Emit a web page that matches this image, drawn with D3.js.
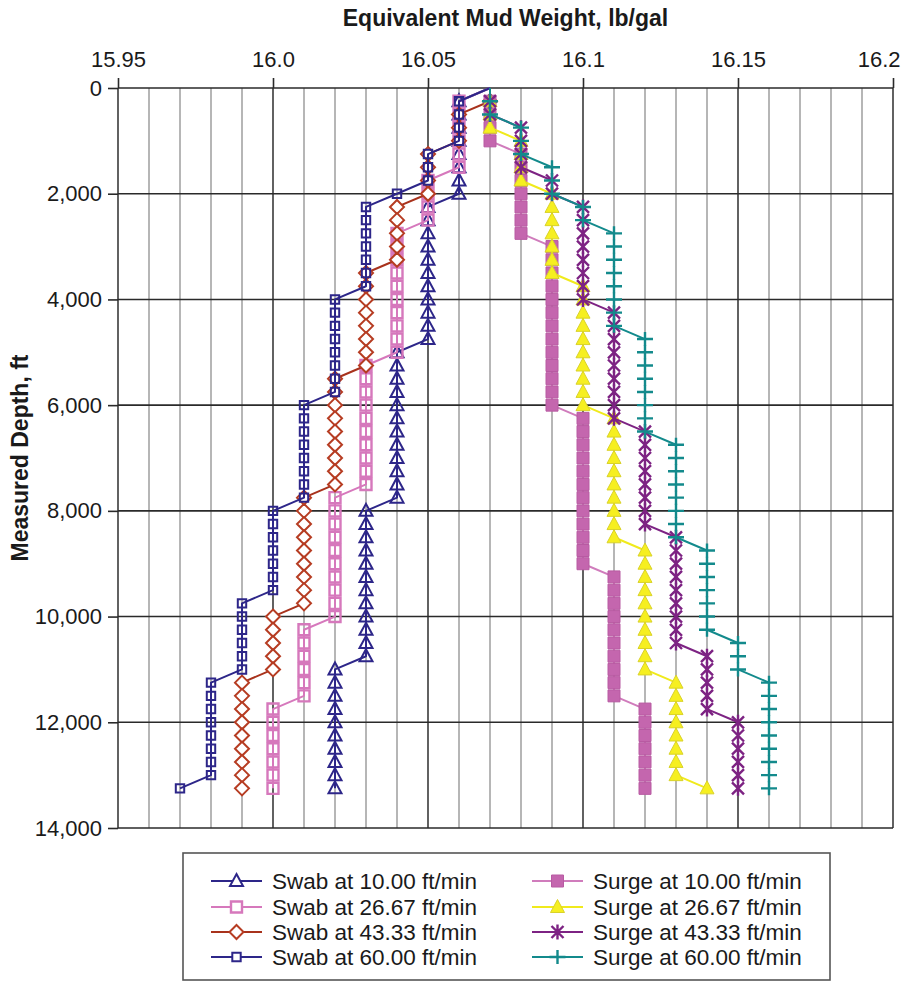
<!DOCTYPE html>
<html>
<head>
<meta charset="utf-8">
<script src="https://cdn.jsdelivr.net/npm/d3@7"></script>
<style>
  body { margin: 0; background: #ffffff; }
  svg { display: block; font-family: "Liberation Sans", Arial, Helvetica, sans-serif; }
</style>
</head>
<body>
<svg id="chart" width="910" height="983"></svg>
<script>
// Measured depth of each calculation point, ft
const depths = [
  0, 250, 500, 750, 1000, 1250, 1500, 1750, 2000, 2250,
  2500, 2750, 3000, 3250, 3500, 3750, 4000, 4250, 4500, 4750,
  5000, 5250, 5500, 5750, 6000, 6250, 6500, 6750, 7000, 7250,
  7500, 7750, 8000, 8250, 8500, 8750, 9000, 9250, 9500, 9750,
  10000, 10250, 10500, 10750, 11000, 11250, 11500, 11750, 12000, 12250,
  12500, 12750, 13000, 13250
];

// Equivalent mud weight (lb/gal) at each depth
const swab10 = [
  16.07,
  16.06, 16.06, 16.06, 16.06, 16.06, 16.06, 16.06, 16.06,
  16.05, 16.05, 16.05, 16.05, 16.05, 16.05, 16.05, 16.05, 16.05, 16.05, 16.05,
  16.04, 16.04, 16.04, 16.04, 16.04, 16.04, 16.04, 16.04, 16.04, 16.04, 16.04, 16.04,
  16.03, 16.03, 16.03, 16.03, 16.03, 16.03, 16.03, 16.03, 16.03, 16.03, 16.03, 16.03,
  16.02, 16.02, 16.02, 16.02, 16.02, 16.02, 16.02, 16.02, 16.02, 16.02
];
const swab26 = [
  16.07,
  16.06, 16.06, 16.06, 16.06, 16.06, 16.06,
  16.05, 16.05, 16.05, 16.05,
  16.04, 16.04, 16.04, 16.04, 16.04, 16.04, 16.04, 16.04, 16.04, 16.04,
  16.03, 16.03, 16.03, 16.03, 16.03, 16.03, 16.03, 16.03, 16.03, 16.03,
  16.02, 16.02, 16.02, 16.02, 16.02, 16.02, 16.02, 16.02, 16.02, 16.02,
  16.01, 16.01, 16.01, 16.01, 16.01, 16.01,
  16.00, 16.00, 16.00, 16.00, 16.00, 16.00, 16.00
];
const swab43 = [
  16.07, 16.07,
  16.06, 16.06, 16.06,
  16.05, 16.05, 16.05, 16.05,
  16.04, 16.04, 16.04, 16.04, 16.04,
  16.03, 16.03, 16.03, 16.03, 16.03, 16.03, 16.03, 16.03,
  16.02, 16.02, 16.02, 16.02, 16.02, 16.02, 16.02, 16.02, 16.02,
  16.01, 16.01, 16.01, 16.01, 16.01, 16.01, 16.01, 16.01, 16.01,
  16.00, 16.00, 16.00, 16.00, 16.00,
  15.99, 15.99, 15.99, 15.99, 15.99, 15.99, 15.99, 15.99, 15.99
];
const swab60 = [
  16.07,
  16.06, 16.06, 16.06, 16.06,
  16.05, 16.05, 16.05,
  16.04,
  16.03, 16.03, 16.03, 16.03, 16.03, 16.03, 16.03,
  16.02, 16.02, 16.02, 16.02, 16.02, 16.02, 16.02, 16.02,
  16.01, 16.01, 16.01, 16.01, 16.01, 16.01, 16.01, 16.01,
  16.00, 16.00, 16.00, 16.00, 16.00, 16.00, 16.00,
  15.99, 15.99, 15.99, 15.99, 15.99, 15.99,
  15.98, 15.98, 15.98, 15.98, 15.98, 15.98, 15.98, 15.98,
  15.97
];
const surge10 = [
  16.07, 16.07, 16.07, 16.07, 16.07,
  16.08, 16.08, 16.08, 16.08, 16.08, 16.08, 16.08,
  16.09, 16.09, 16.09, 16.09, 16.09, 16.09, 16.09, 16.09, 16.09, 16.09, 16.09, 16.09, 16.09,
  16.10, 16.10, 16.10, 16.10, 16.10, 16.10, 16.10, 16.10, 16.10, 16.10, 16.10, 16.10,
  16.11, 16.11, 16.11, 16.11, 16.11, 16.11, 16.11, 16.11, 16.11, 16.11,
  16.12, 16.12, 16.12, 16.12, 16.12, 16.12, 16.12
];
const surge26 = [
  16.07, 16.07, 16.07, 16.07,
  16.08, 16.08, 16.08, 16.08,
  16.09, 16.09, 16.09, 16.09, 16.09, 16.09, 16.09,
  16.10, 16.10, 16.10, 16.10, 16.10, 16.10, 16.10, 16.10, 16.10, 16.10,
  16.11, 16.11, 16.11, 16.11, 16.11, 16.11, 16.11, 16.11, 16.11, 16.11,
  16.12, 16.12, 16.12, 16.12, 16.12, 16.12, 16.12, 16.12, 16.12, 16.12,
  16.13, 16.13, 16.13, 16.13, 16.13, 16.13, 16.13, 16.13,
  16.14
];
const surge43 = [
  16.07, 16.07, 16.07,
  16.08, 16.08, 16.08, 16.08,
  16.09, 16.09,
  16.10, 16.10, 16.10, 16.10, 16.10, 16.10, 16.10, 16.10,
  16.11, 16.11, 16.11, 16.11, 16.11, 16.11, 16.11, 16.11, 16.11,
  16.12, 16.12, 16.12, 16.12, 16.12, 16.12, 16.12, 16.12,
  16.13, 16.13, 16.13, 16.13, 16.13, 16.13, 16.13, 16.13, 16.13,
  16.14, 16.14, 16.14, 16.14, 16.14,
  16.15, 16.15, 16.15, 16.15, 16.15, 16.15
];
const surge60 = [
  16.07, 16.07, 16.07,
  16.08, 16.08, 16.08,
  16.09, 16.09, 16.09,
  16.10, 16.10,
  16.11, 16.11, 16.11, 16.11, 16.11, 16.11, 16.11, 16.11,
  16.12, 16.12, 16.12, 16.12, 16.12, 16.12, 16.12, 16.12,
  16.13, 16.13, 16.13, 16.13, 16.13, 16.13, 16.13, 16.13,
  16.14, 16.14, 16.14, 16.14, 16.14, 16.14, 16.14,
  16.15, 16.15, 16.15,
  16.16, 16.16, 16.16, 16.16, 16.16, 16.16, 16.16, 16.16, 16.16
];

const seriesNames = [
  "Swab at 10.00 ft/min", "Swab at 26.67 ft/min", "Swab at 43.33 ft/min", "Swab at 60.00 ft/min",
  "Surge at 10.00 ft/min", "Surge at 26.67 ft/min", "Surge at 43.33 ft/min", "Surge at 60.00 ft/min"
];
const seriesValues = [swab10, swab26, swab43, swab60, surge10, surge26, surge43, surge60];

// Axis ticks
const xTicks = [15.95, 16.0, 16.05, 16.1, 16.15, 16.2];
const xTickLabels = ["15.95", "16.0", "16.05", "16.1", "16.15", "16.2"];
const yTicks = [0, 2000, 4000, 6000, 8000, 10000, 12000, 14000];

// Marker shapes (paths centred on the point)
const shapes = {
  triangle: "M0,-7L6.5,5L-6.5,5Z",
  squareLarge: "M-5.5,-5.5H5.5V5.5H-5.5Z",
  diamond: "M0,-7L7,0L0,7L-7,0Z",
  squareSmall: "M-4.2,-4.2H4.2V4.2H-4.2Z",
  squareFilled: "M-6,-6H6V6H-6Z",
  triangleFilled: "M0,-7.5L7,5.5L-7,5.5Z",
  asterisk: "M-6,-6L6,6M-6,6L6,-6M0,-7.5V7.5",
  plus: "M-8,0H8M0,-7V7"
};

const styles = [
  { line: "#2d2689", lw: 2, shape: "triangle", stroke: "#2d2689", sw: 2, fill: "none" },
  { line: "#d678bc", lw: 2, shape: "squareLarge", stroke: "#d678bc", sw: 2.4, fill: "none" },
  { line: "#a8321c", lw: 2, shape: "diamond", stroke: "#b63c22", sw: 2, fill: "#ffffff" },
  { line: "#2d2689", lw: 2, shape: "squareSmall", stroke: "#2d2689", sw: 2, fill: "none" },
  { line: "#d07cbc", lw: 2, shape: "squareFilled", stroke: "#b85aa2", sw: 1, fill: "#c466ae" },
  { line: "#f0ea1c", lw: 2, shape: "triangleFilled", stroke: "#d9d22a", sw: 1, fill: "#f6ef20" },
  { line: "#7d2383", lw: 2, shape: "asterisk", stroke: "#7d2383", sw: 2.4, fill: "none" },
  { line: "#138a8c", lw: 2, shape: "plus", stroke: "#138a8c", sw: 2.4, fill: "none" }
];

const svg = d3.select("#chart");
const plotLeft = 118, plotRight = 893, plotTop = 88, plotBottom = 828;

const x = d3.scaleLinear().domain([15.95, 16.2]).range([plotLeft, plotRight]);
const y = d3.scaleLinear().domain([0, 14000]).range([plotTop, plotBottom]);

// Grid: light vertical lines every 0.01, dark every 0.05 and every 2,000 ft
const grid = svg.append("g");
const minorX = d3.range(1, 25).map(i => +(15.95 + i * 0.01).toFixed(2))
  .filter(v => !xTicks.some(t => Math.abs(t - v) < 1e-6));
grid.selectAll(".minor").data(minorX).join("line")
  .attr("x1", d => x(d)).attr("x2", d => x(d))
  .attr("y1", plotTop).attr("y2", plotBottom)
  .attr("stroke", "#a4a4a4").attr("stroke-width", 1.6);
grid.selectAll(".majorx").data(xTicks).join("line")
  .attr("x1", d => x(d)).attr("x2", d => x(d))
  .attr("y1", plotTop).attr("y2", plotBottom)
  .attr("stroke", "#3a3a3a").attr("stroke-width", 1.6);
grid.selectAll(".majory").data(yTicks).join("line")
  .attr("x1", plotLeft).attr("x2", plotRight)
  .attr("y1", d => y(d)).attr("y2", d => y(d))
  .attr("stroke", "#2a2a2a").attr("stroke-width", 1.6);

// Axes
const xAxis = svg.append("g").attr("transform", `translate(0,${plotTop})`)
  .call(d3.axisTop(x).tickValues(xTicks).tickFormat((d, i) => xTickLabels[i]).tickSize(10).tickPadding(11));
const yAxis = svg.append("g").attr("transform", `translate(${plotLeft},0)`)
  .call(d3.axisLeft(y).tickValues(yTicks).tickFormat(d3.format(",")).tickSize(10).tickPadding(6));
[xAxis, yAxis].forEach(a => {
  a.select(".domain").remove();
  a.selectAll(".tick line").attr("stroke", "#2a2a2a").attr("stroke-width", 1.6);
  a.selectAll(".tick text").attr("fill", "#1a1a1a")
    .style("font-size", "22px").style("font-family", "'Liberation Sans', Arial, sans-serif");
});
// keep the last top label inside the page edge
xAxis.selectAll(".tick text").filter((d, i) => i === xTicks.length - 1)
  .attr("text-anchor", "end").attr("dx", 7);

// Axis titles
svg.append("text").attr("x", (plotLeft + plotRight) / 2).attr("y", 26)
  .attr("text-anchor", "middle").attr("font-weight", "bold").attr("font-size", 23)
  .attr("fill", "#1a1a1a").text("Equivalent Mud Weight, lb/gal");
svg.append("text").attr("transform", `translate(28,${(plotTop + plotBottom) / 2}) rotate(-90)`)
  .attr("text-anchor", "middle").attr("font-weight", "bold").attr("font-size", 23)
  .attr("fill", "#1a1a1a").text("Measured Depth, ft");

// Series
const lineGen = d3.line().x(d => x(d[1])).y(d => y(d[0]));
const plot = svg.append("g");
seriesValues.forEach((vals, si) => {
  const st = styles[si];
  const pts = depths.map((dep, i) => [dep, vals[i]]);
  const g = plot.append("g");
  g.append("path").datum(pts).attr("d", lineGen)
    .attr("fill", "none").attr("stroke", st.line).attr("stroke-width", st.lw)
    .attr("stroke-linejoin", "round");
  g.selectAll("path.mk").data(pts.slice(1)).join("path").attr("class", "mk")
    .attr("d", shapes[st.shape])
    .attr("transform", d => `translate(${x(d[1])},${y(d[0])})`)
    .attr("fill", st.fill).attr("stroke", st.stroke).attr("stroke-width", st.sw);
});

// Legend
const legend = svg.append("g");
legend.append("rect").attr("x", 183).attr("y", 853).attr("width", 647).attr("height", 127)
  .attr("fill", "#ffffff").attr("stroke", "#555555").attr("stroke-width", 1.6);
const rowY = [881, 907, 932, 957];
seriesNames.forEach((name, i) => {
  const st = styles[i];
  const col = i < 4 ? 0 : 1;
  const lx = col === 0 ? 211 : 532;
  const ly = rowY[i % 4];
  const g = legend.append("g");
  g.append("line").attr("x1", lx).attr("x2", lx + 51).attr("y1", ly).attr("y2", ly)
    .attr("stroke", st.line).attr("stroke-width", 2.2);
  g.append("path").attr("d", shapes[st.shape])
    .attr("transform", `translate(${lx + 25.5},${ly})`)
    .attr("fill", st.fill === "none" ? "#ffffff" : st.fill)
    .attr("stroke", st.stroke).attr("stroke-width", st.sw);
  g.append("text").attr("x", lx + 61).attr("y", ly + 8)
    .attr("font-size", 22.5).attr("fill", "#1a1a1a").text(name);
});
</script>
</body>
</html>
